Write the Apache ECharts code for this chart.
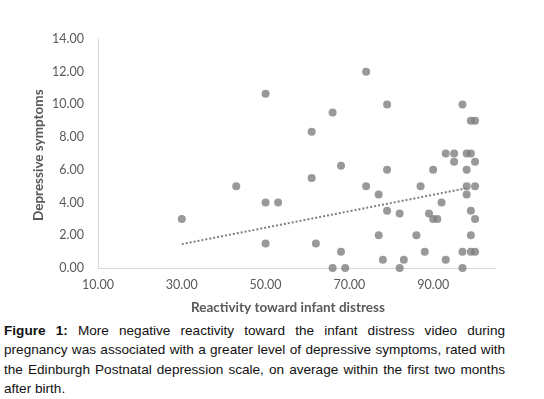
<!DOCTYPE html>
<html>
<head>
<meta charset="utf-8">
<script src="https://cdn.jsdelivr.net/npm/echarts@6/dist/echarts.min.js"></script>
<style>
  html, body { margin: 0; padding: 0; background: #fff; }
  #wrap { position: relative; width: 544px; height: 399px; }
  #chart { position: absolute; left: 0; top: 0; width: 544px; height: 318px; }
  #caption {
    position: absolute; left: 4px; top: 321px; width: 501px;
    font-family: "Liberation Sans", Arial, sans-serif; font-size: 13.6px;
    line-height: 19.3px; color: #111; white-space: nowrap;
  }
  #caption .j { text-align: justify; text-align-last: justify; }
</style>
</head>
<body>
<div id="wrap">
  <div id="chart"></div>
  <div id="caption">
    <div class="j"><b>Figure 1:</b> More negative reactivity toward the infant distress video during</div>
    <div class="j">pregnancy was associated with a greater level of depressive symptoms, rated with</div>
    <div class="j">the Edinburgh Postnatal depression scale, on average within the first two months</div>
    <div>after birth.</div>
  </div>
</div>
<script>
// reactivity (x) and depressive symptoms (y)
const reactivity = [30, 43, 50, 50, 53, 50, 61, 61, 62, 66, 68, 68, 66, 69, 74, 74, 79, 79, 77, 79,
  82, 77, 78, 83, 82, 87, 90, 92, 89, 90, 91, 86, 88, 93, 93, 95, 95, 97, 99, 100,
  98, 99, 100, 98, 98, 100, 98, 99, 100, 99, 97, 99, 100, 97]
const symptoms = [3, 5, 10.66, 4, 4, 1.5, 8.33, 5.5, 1.5, 9.5, 6.25, 1, 0, 0, 12, 5, 10, 6, 4.5, 3.5,
  3.33, 2, 0.5, 0.5, 0, 5, 6, 4, 3.33, 3, 3, 2, 1, 0.5, 7, 7, 6.5, 10, 9, 9,
  7, 7, 6.5, 6, 5, 5, 4.5, 3.5, 3, 2, 1, 1, 1, 0]
// linear trend line end points
const trendX = [30, 98]
const trendY = [1.46, 4.88]

const chart = echarts.init(document.getElementById('chart'))
const labelFont = { color: '#595959', fontFamily: 'Lato, "Open Sans", sans-serif', fontSize: 12.5 }

chart.setOption({
  animation: false,
  grid: { left: 98, top: 39, width: 398, height: 229 },
  xAxis: {
    type: 'value',
    min: 10,
    max: 105,
    interval: 20,
    axisLine: { lineStyle: { color: '#d9d9d9' } },
    axisTick: { show: false },
    splitLine: { show: false },
    axisLabel: Object.assign({ formatter: v => v.toFixed(2), margin: 10, showMaxLabel: false }, labelFont)
  },
  yAxis: {
    type: 'value',
    min: 0,
    max: 14,
    interval: 2,
    axisLine: { show: true, lineStyle: { color: '#d9d9d9' } },
    axisTick: { show: false },
    splitLine: { show: false },
    axisLabel: Object.assign({ formatter: v => v.toFixed(2), margin: 14 }, labelFont)
  },
  graphic: [
    {
      type: 'text', left: 191, top: 301,
      style: { text: 'Reactivity toward infant distress', fill: '#595959',
        font: 'bold 13.5px Lato, "Open Sans", sans-serif' }
    },
    {
      type: 'text', x: 32, y: 221, rotation: Math.PI / 2,
      style: { text: 'Depressive symptoms', fill: '#595959',
        font: 'bold 13.5px Lato, "Open Sans", sans-serif' }
    }
  ],
  series: [
    {
      type: 'scatter',
      symbolSize: 8,
      itemStyle: { color: '#7f7f7f' },
      data: reactivity.map((x, i) => [x, symptoms[i]])
    },
    {
      type: 'line',
      symbol: 'none',
      lineStyle: { color: '#7f7f7f', width: 2, type: [2, 2] },
      data: trendX.map((x, i) => [x, trendY[i]])
    }
  ]
})
</script>
</body>
</html>
